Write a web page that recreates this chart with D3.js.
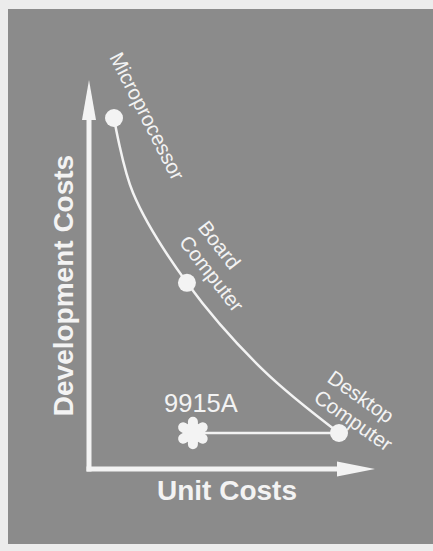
<!DOCTYPE html>
<html lang="en">
<head>
<meta charset="utf-8">
<title>Development vs unit costs</title>
<script src="https://cdn.jsdelivr.net/npm/d3@7"></script>
<style>
  body { margin: 0; background: #ececec; }
  svg { display: block; }
  text { fill: #f3f3f3; font-family: "Liberation Sans", Arial, sans-serif; }
  .axe line { stroke: #f3f3f3; stroke-width: 5; }
  .axe path { fill: #f3f3f3; }
  .courbe { fill: none; stroke: #f3f3f3; stroke-width: 2.5; }
  .lien { stroke: #f3f3f3; stroke-width: 2.5; }
  .point { fill: #f3f3f3; }
</style>
</head>
<body>
<svg width="433" height="551"></svg>
<script>
// products along the cost trade-off curve
const produits = ["Microprocessor", "Board Computer", "Desktop Computer"];
const coutUnitaire = [1.05, 4.11, 10.49];
const coutDeveloppement = [9.07, 4.81, 0.93];

// extra points
const courbeUnitaire = [1.05, 1.85, 4.11, 7.30, 10.49];
const courbeDeveloppement = [9.07, 7.13, 4.81, 2.56, 0.93];

// the 9915A sits at desktop development cost
const special = "9915A";
const specialUnitaire = 4.36;
const specialDeveloppement = 0.93;

const axeX = "Unit Costs";
const axeY = "Development Costs";

const svg = d3.select("svg");

// panneau gris
svg.append("rect")
  .attr("x", 8).attr("y", 9)
  .attr("width", 425).attr("height", 535)
  .attr("fill", "#8b8b8b");

const x = d3.scaleLinear().domain([0, 12]).range([89, 375]);
const y = d3.scaleLinear().domain([0, 10]).range([469, 82]);

// axes avec fleches
const axes = svg.append("g").classed("axe", true);
axes.append("line")
  .attr("x1", x(0)).attr("x2", x(0))
  .attr("y1", y(0) + 2.5).attr("y2", y(10) + 20);
axes.append("line")
  .attr("x1", x(0) - 2.5).attr("x2", x(12) - 20)
  .attr("y1", y(0)).attr("y2", y(0));
axes.append("path")
  .attr("d", `M${x(0)},${y(10) - 2} L${x(0) + 7},${y(10) + 38} L${x(0) - 7},${y(10) + 38} Z`);
axes.append("path")
  .attr("d", `M${x(12)},${y(0)} L${x(12) - 38},${y(0) - 7.5} L${x(12) - 38},${y(0) + 7.5} Z`);

svg.append("text")
  .attr("transform", `translate(73, ${(y(0) + y(10)) / 2 + 10}) rotate(-90)`)
  .attr("text-anchor", "middle")
  .style("font-size", "28px").style("font-weight", "bold")
  .text(axeY);

svg.append("text")
  .attr("x", (x(0) + x(12)) / 2 - 5).attr("y", 500)
  .attr("text-anchor", "middle")
  .style("font-size", "28px").style("font-weight", "bold")
  .text(axeX);

// courbe
const pointsCourbe = courbeUnitaire.map((u, i) => [u, courbeDeveloppement[i]]);
svg.append("path")
  .classed("courbe", true)
  .attr("d", d3.line()
    .x(d => x(d[0])).y(d => y(d[1]))
    .curve(d3.curveCatmullRom.alpha(0.5))(pointsCourbe));

// lien 9915A -> desktop
svg.append("line")
  .classed("lien", true)
  .attr("x1", x(specialUnitaire)).attr("y1", y(specialDeveloppement))
  .attr("x2", x(coutUnitaire[2])).attr("y2", y(coutDeveloppement[2]));

svg.selectAll("circle.point")
  .data(produits)
  .enter()
  .append("circle")
    .classed("point", true)
    .attr("cx", (d, i) => x(coutUnitaire[i]))
    .attr("cy", (d, i) => y(coutDeveloppement[i]))
    .attr("r", 9);

// asterisque
svg.append("path")
  .attr("transform", `translate(${x(specialUnitaire)}, ${y(specialDeveloppement)})`)
  .attr("d", d3.symbol().type(d3.symbolAsterisk).size(360)())
  .attr("fill", "none")
  .attr("stroke", "#f3f3f3")
  .attr("stroke-width", 10)
  .attr("stroke-linecap", "round");
svg.append("circle")
  .classed("point", true)
  .attr("cx", x(specialUnitaire)).attr("cy", y(specialDeveloppement))
  .attr("r", 8);

svg.append("text")
  .attr("x", x(specialUnitaire) + 8).attr("y", y(specialDeveloppement) - 21)
  .attr("text-anchor", "middle")
  .style("font-size", "25.5px")
  .text(special);

// etiquettes inclinees
const etiquettes = [
  { lignes: ["Microprocessor"], dx: -5, dy: -61, angle: 63 },
  { lignes: ["Board", "Computer"], dx: 10, dy: -55, angle: 52 },
  { lignes: ["Desktop", "Computer"], dx: -13, dy: -52, angle: 35 }
];

etiquettes.forEach((e, i) => {
  const t = svg.append("text")
    .attr("transform", `translate(${x(coutUnitaire[i]) + e.dx}, ${y(coutDeveloppement[i]) + e.dy}) rotate(${e.angle})`)
    .style("font-size", "20.5px");
  e.lignes.forEach((l, j) => {
    t.append("tspan")
      .attr("x", 0)
      .attr("dy", j === 0 ? 0 : "1.16em")
      .text(l);
  });
});
</script>
</body>
</html>
